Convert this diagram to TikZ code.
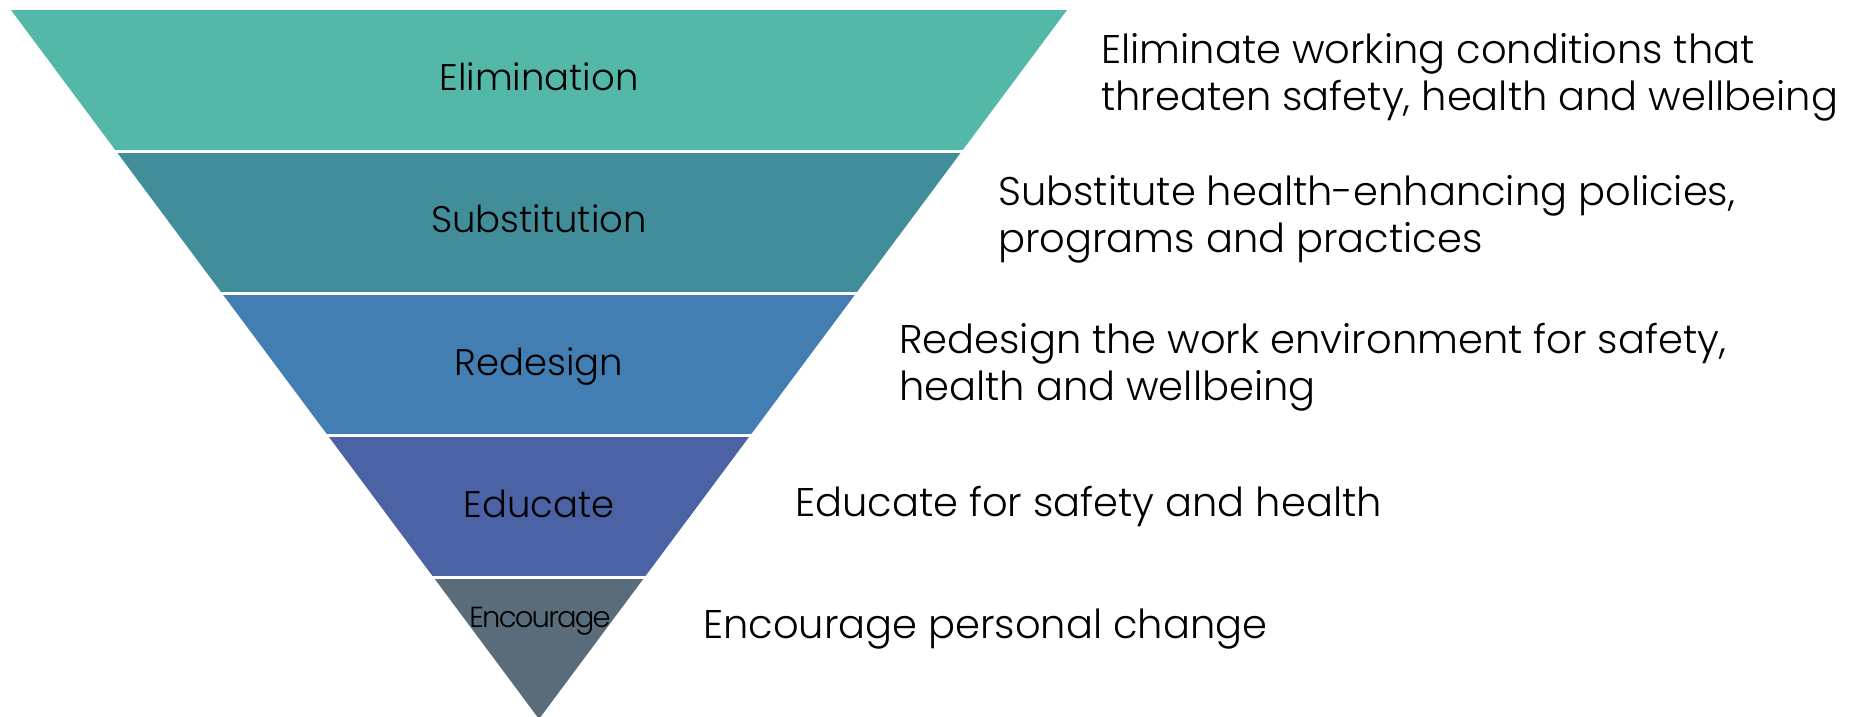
\documentclass[tikz,border=0pt]{standalone}
\usepackage{fontspec}
\setmainfont{Poppins Light}
\newfontfamily\condfont[LetterSpace=-6]{Poppins Light}
\definecolor{cElim}{HTML}{54B8A8}
\definecolor{cSubs}{HTML}{418D99}
\definecolor{cRede}{HTML}{437EB2}
\definecolor{cEduc}{HTML}{4B62A5}
\definecolor{cEnco}{HTML}{5A6C7A}
\tikzset{
  sep/.style={draw=white, line width=3pt},
  lbl/.style={anchor=base, inner sep=0pt, font=\fontsize{37}{44}\selectfont, text=black},
  desc/.style={anchor=base west, inner sep=0pt, align=left, font=\fontsize{40}{47}\selectfont, text=black},
}
\begin{document}
\begin{tikzpicture}[x=1pt,y=-1pt]
\useasboundingbox (0,0) rectangle (1858,716);
% bands
\fill[cElim] (11,10) -- (1067,10) -- (962,151) -- (116,151) -- cycle;
\fill[cSubs] (116,151) -- (962,151) -- (856.25,293) -- (221.75,293) -- cycle;
\fill[cRede] (221.75,293) -- (856.25,293) -- (750.5,435) -- (327.5,435) -- cycle;
\fill[cEduc] (327.5,435) -- (750.5,435) -- (644.75,577) -- (433.25,577) -- cycle;
\fill[cEnco] (433.25,577) -- (644.75,577) -- (539,719) -- cycle;
% separators
\coordinate (s1a) at (100,151); \coordinate (s1b) at (980,151);
\coordinate (s2a) at (200,293); \coordinate (s2b) at (880,293);
\coordinate (s3a) at (300,435); \coordinate (s3b) at (780,435);
\coordinate (s4a) at (400,577); \coordinate (s4b) at (680,577);
\draw[sep] (s1a) -- (s1b);
\draw[sep] (s2a) -- (s2b);
\draw[sep] (s3a) -- (s3b);
\draw[sep] (s4a) -- (s4b);
% band labels
\node[lbl] (l1) at (539,90) {Elimination};
\node[lbl] (l2) at (539,232) {Substitution};
\node[lbl] (l3) at (539,375) {Redesign};
\node[lbl] (l4) at (539,517) {Educate};
\node[lbl, font=\fontsize{29}{35}\condfont] (l5) at (540,627) {Encourage};
% descriptions (anchored at the baseline of the last line)
\node[desc] (d1) at (1101,110) {Eliminate working conditions that\\threaten safety, health and wellbeing};
\node[desc] (d2) at (998,252) {Substitute health-enhancing policies,\\programs and practices};
\node[desc] (d3) at (899,400) {Redesign the work environment for safety,\\health and wellbeing};
\node[desc] (d4) at (795,516) {Educate for safety and health};
\node[desc] (d5) at (703,638) {Encourage personal change};
\end{tikzpicture}
\end{document}
